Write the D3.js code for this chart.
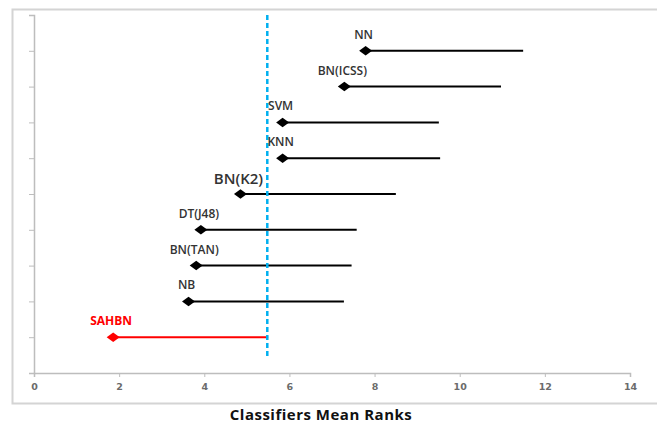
<!DOCTYPE html>
<html>
<head>
<meta charset="utf-8">
<script src="https://cdn.jsdelivr.net/npm/d3@7"></script>
<style>
  html, body { margin: 0; padding: 0; background: #fff; }
  svg { display: block; }
</style>
</head>
<body>
<div id="chart"></div>
<script>
// classifiers, bottom to top
var classifiers = ["SAHBN", "NB", "BN(TAN)", "DT(J48)", "BN(K2)", "KNN", "SVM", "BN(ICSS)", "NN"];
var meanRanks   = [1.86, 3.63, 3.81, 3.92, 4.85, 5.84, 5.84, 7.29, 7.79];
var rankEnds    = [5.50, 7.28, 7.46, 7.58, 8.50, 9.54, 9.51, 10.97, 11.49];
var criticalRank = 5.48;
var xTicks = [0, 2, 4, 6, 8, 10, 12, 14];
var axisTitle = "Classifiers Mean Ranks";

var W = 657, H = 423;
var margin = { left: 34, right: 27, top: 15, bottom: 50 };

var svg = d3.select("#chart").append("svg")
    .attr("width", W)
    .attr("height", H);

// outer frame
svg.append("path")
    .attr("d", "M" + W + ",9.5H12.5V403.5H" + W)
    .style("fill", "none")
    .style("stroke", "#d4d4d4")
    .style("stroke-width", 2);

var x = d3.scaleLinear().domain([0, 14]).range([margin.left, W - margin.right]);
var y = d3.scaleLinear().domain([0, 10]).range([H - margin.bottom, margin.top]);

// x axis
var gx = svg.append("g")
    .attr("transform", "translate(0," + y(0) + ")")
    .call(d3.axisBottom(x).tickValues(xTicks).tickSize(4).tickSizeOuter(4).tickPadding(6));
gx.select(".domain").style("stroke", "#bdbdbd").style("stroke-width", 1.5);
gx.selectAll(".tick line").style("stroke", "#bdbdbd");
gx.selectAll("text")
    .style("font-family", "DejaVu Sans")
    .style("font-size", "9.5px")
    .style("font-weight", "bold")
    .style("fill", "#6b6b6b");

// y axis (no labels)
var gy = svg.append("g")
    .attr("transform", "translate(" + x(0) + ",0)")
    .call(d3.axisLeft(y).ticks(10).tickSize(5).tickSizeOuter(5).tickFormat(""));
gy.select(".domain").style("stroke", "#bdbdbd").style("stroke-width", 1.5);
gy.selectAll(".tick line").style("stroke", "#bdbdbd");

var rows = classifiers.map(function (c, i) {
    return { name: c, rank: meanRanks[i], end: rankEnds[i], pos: i + 1 };
});

function colorOf(d) { return d.name === "SAHBN" ? "#ff0000" : "#000"; }

// range lines
svg.selectAll(".range")
    .data(rows).enter().append("line")
    .attr("x1", function (d) { return x(d.rank); })
    .attr("x2", function (d) { return x(d.end); })
    .attr("y1", function (d) { return y(d.pos); })
    .attr("y2", function (d) { return y(d.pos); })
    .style("stroke", colorOf)
    .style("stroke-width", 2);

// critical difference line
svg.append("line")
    .attr("x1", x(criticalRank)).attr("x2", x(criticalRank))
    .attr("y1", y(10)).attr("y2", y(0.45))
    .style("stroke", "#00b0f0")
    .style("stroke-width", 2.5)
    .style("stroke-dasharray", "5,3");

// diamonds
svg.selectAll(".mark")
    .data(rows).enter().append("path")
    .attr("d", d3.symbol().type(d3.symbolSquare).size(50))
    .attr("transform", function (d) {
        return "translate(" + x(d.rank) + "," + y(d.pos) + ") scale(1.3,0.95) rotate(45)";
    })
    .style("fill", colorOf);

// labels
svg.selectAll(".lbl")
    .data(rows).enter().append("text")
    .attr("x", function (d) { return x(d.rank) - 2; })
    .attr("y", function (d) { return y(d.pos) - (d.name === "BN(K2)" ? 10 : 12); })
    .attr("text-anchor", "middle")
    .style("font-family", "Open Sans")
    .style("font-size", function (d) { return d.name === "BN(K2)" ? "15px" : "12px"; })
    .style("font-weight", function (d) { return d.name === "SAHBN" ? "bold" : "600"; })
    .style("fill", function (d) { return d.name === "SAHBN" ? "#ff0000" : "#333"; })
    .text(function (d) { return d.name; });

// axis title
svg.append("text")
    .attr("x", 321)
    .attr("y", 420)
    .attr("text-anchor", "middle")
    .style("font-family", "Open Sans")
    .style("font-size", "15px")
    .style("font-weight", "bold")
    .style("letter-spacing", "0.5px")
    .style("fill", "#111")
    .text(axisTitle);
</script>
</body>
</html>
